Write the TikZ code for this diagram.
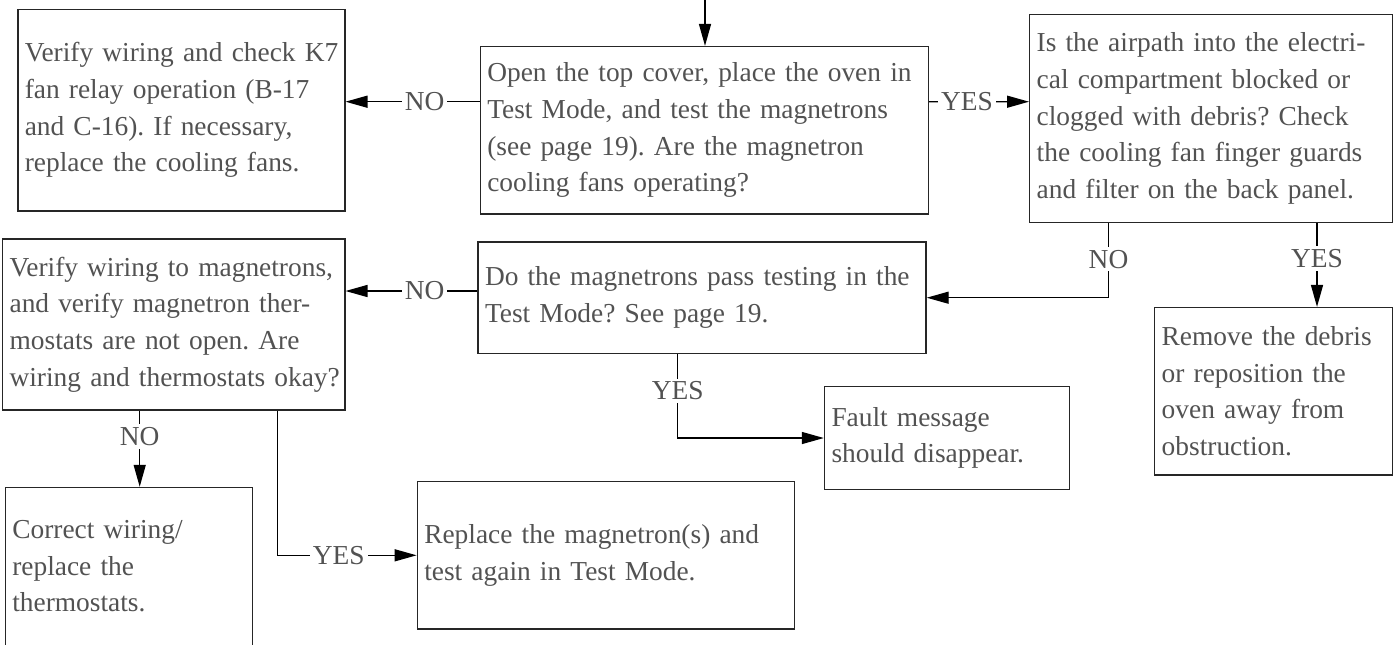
\documentclass[tikz,border=0pt]{standalone}
\usepackage{fontspec}
\setmainfont{Liberation Serif}
\usetikzlibrary{arrows.meta,calc}
\frenchspacing

\begin{document}
\begin{tikzpicture}[x=0.5pt,y=-0.5pt,line width=0.7pt,
    stepbox/.style={draw=black!85,text=black!68,align=left,inner xsep=3.5pt,inner ysep=0pt,
      font=\fontsize{13.7}{18.3}\selectfont},
    answer/.style={fill=white,text=black!68,inner sep=1.5pt,font=\fontsize{13.7}{15}\selectfont},
    >={Triangle[length=11pt,width=6pt]} ]
    \useasboundingbox (0,0) rectangle (1396,644);
    \node at (181.3,110.2) [stepbox,text width=156.5pt,minimum height=100.8pt] (A)
      {\mbox{Verify wiring and check K7}\\ fan relay operation (B-17\\ and C-16). If necessary,\\ replace the cooling fans.};
    \node at (704.3,130.3) [stepbox,text width=217pt,minimum height=83.7pt] (B)
      {Open the top cover, place the oven in\\ Test Mode, and test the magnetrons\\ (see page 19). Are the magnetron\\ cooling fans operating?};
    \node at (1211,118.5) [stepbox,text width=174.3pt,minimum height=104.2pt] (C)
      {Is the airpath into the electri-\\cal compartment blocked or\\ clogged with debris? Check\\ the cooling fan finger guards\\ and filter on the back panel.};
    \node at (173.7,324.5) [stepbox,text width=164.1pt,minimum height=85.5pt] (D)
      {\mbox{Verify wiring to magnetrons,}\\ and verify magnetron ther-\\mostats are not open. Are\\ \mbox{wiring and thermostats okay?}};
    \node at (702,297.7) [stepbox,text width=217pt,minimum height=55.7pt] (E)
      {Do the magnetrons pass testing in the\\ Test Mode? See page 19.};
    \node at (1273.5,391.3) [stepbox,text width=111.8pt,minimum height=83.7pt] (F)
      {Remove the debris\\ or reposition the\\ oven away from\\ obstruction.};
    \node at (946.9,438) [stepbox,text width=115.4pt,minimum height=51.3pt] (G)
      {Fault message\\ should disappear.};
    \node at (128.8,566.5) [stepbox,text width=116.5pt,minimum height=79pt] (H)
      {Correct wiring/\\ replace the\\ thermostats.};
    \node at (605.8,555.3) [stepbox,text width=181.5pt,minimum height=73.7pt] (I)
      {Replace the magnetron(s) and\\ test again in Test Mode.};
    % entry from above
    \coordinate (top) at (705,0);
    \draw [->] (top) to (top |- B.north);
    \draw [->] ($(B.west)+(0,-28.6)$) to node[answer,pos=0.41] {NO} ($(A.east)+(0,-8.5)$);
    \draw [->] ($(B.east)+(0,-28.6)$) to node[answer,pos=0.38] {YES} ($(C.west)+(0,-16.8)$);
    \draw [->] ($(C.south)+(-102.5,0)$) |- node[answer,pos=0.24] {NO} (E.east);
    \coordinate (c1) at ($(C.south)+(106,0)$);
    \draw [->] (c1) to node[answer,pos=0.42] {YES} (c1 |- F.north);
    \draw [->] ($(E.west)+(0,-6.7)$) to node[answer,pos=0.40] {NO} ($(D.east)+(0,-33.5)$);
    \draw [->] ($(E.south)+(-24.3,0)$) |- node[answer,pos=0.22] {YES} (G.west);
    \coordinate (d1) at ($(D.south)+(-34,0)$);
    \draw [->] (d1) to node[answer,pos=0.34] {NO} (d1 |- H.north);
    \draw [->] ($(D.south)+(104,0)$) |- node[answer,pos=0.72] {YES} (I.west);
\end{tikzpicture}
\end{document}
